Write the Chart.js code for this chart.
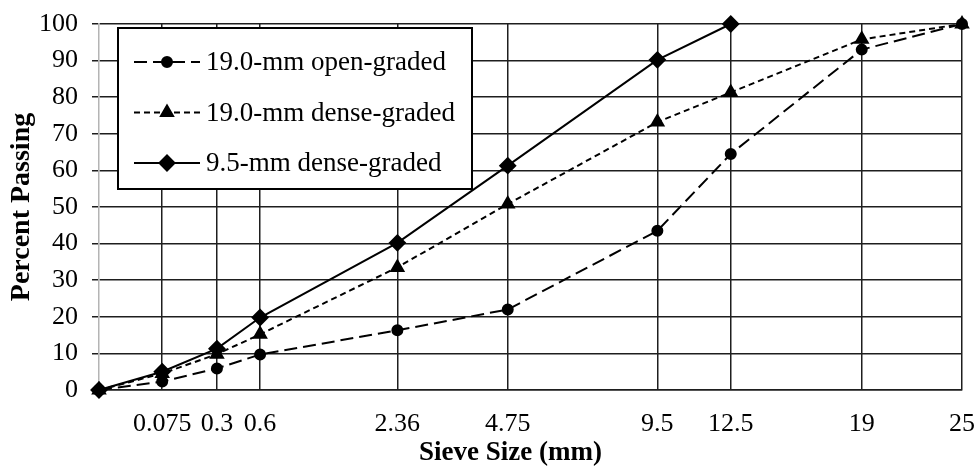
<!DOCTYPE html>
<html>
<head>
<meta charset="utf-8">
<script src="https://cdn.jsdelivr.net/npm/chart.js@4.4.1/dist/chart.umd.min.js"></script>
<style>
  html, body { margin: 0; padding: 0; background: #fff; }
  #wrap { width: 979px; height: 466px; }
</style>
</head>
<body>
<div id="wrap"><canvas id="gradation" width="979" height="466"></canvas></div>
<script>
const sieveSizes = [0, 0.075, 0.3, 0.6, 2.36, 4.75, 9.5, 12.5, 19, 25];
const tickLabels = ["0.075", "0.3", "0.6", "2.36", "4.75", "9.5", "12.5", "19", "25"];
const tickSizes = [0.075, 0.3, 0.6, 2.36, 4.75, 9.5, 12.5, 19, 25];

const openGraded19 = [0, 2.3, 5.9, 9.7, 16.3, 22, 43.5, 64.5, 93, 100];
const denseGraded19 = [0, 4.5, 9.8, 15.2, 33.5, 50.8, 73.2, 81.3, 95.8, 100];
const denseGraded95 = [0, 5, 11.3, 19.8, 40.2, 61.3, 90.2, 100, null, null];

const xTitle = "Sieve Size (mm)";
const yTitle = "Percent Passing";

const FONT = '"Liberation Serif", "Times New Roman", serif';
const GRID = "#1e1e1e";

// 0.45 power chart: x position is size^0.45
const pw = (s) => Math.pow(s, 0.45);
const toPoints = (vals) => sieveSizes.map((s, i) => ({ x: pw(s), y: vals[i] }));

// legend drawn inside the plot, upper left, on a white box
const innerLegend = {
  id: "innerLegend",
  afterDatasetsDraw(chart) {
    const ctx = chart.ctx;
    const { left, top } = chart.chartArea;
    const bx = left + 19, by = top + 4, bw = 354, bh = 161;
    ctx.save();
    ctx.fillStyle = "#fff";
    ctx.fillRect(bx, by, bw, bh);
    ctx.lineWidth = 2;
    ctx.strokeStyle = "#000";
    ctx.strokeRect(bx, by, bw, bh);
    chart.data.datasets.forEach((ds, i) => {
      const y = by + 34 + i * 50.5;
      ctx.beginPath();
      ctx.setLineDash(ds.borderDash || []);
      ctx.lineWidth = 2;
      ctx.moveTo(bx + 16, y);
      ctx.lineTo(bx + 82, y);
      ctx.stroke();
      ctx.setLineDash([]);
      ctx.fillStyle = "#000";
      Chart.helpers.drawPoint(ctx, {
        pointStyle: ds.pointStyle,
        radius: ds.pointRadius,
        rotation: 0,
        borderWidth: 1,
      }, bx + 49, y);
      ctx.font = "27px " + FONT;
      ctx.textBaseline = "middle";
      ctx.fillText(ds.label, bx + 88, y + 1);
    });
    ctx.restore();
  },
};

// x title sits a little left of the plot centre in the original
const xAxisTitle = {
  id: "xAxisTitle",
  afterDraw(chart) {
    const ctx = chart.ctx;
    const { left, right } = chart.chartArea;
    ctx.save();
    ctx.font = "bold 27px " + FONT;
    ctx.fillStyle = "#000";
    ctx.textAlign = "center";
    ctx.textBaseline = "middle";
    ctx.fillText(xTitle, (left + right) / 2 - 20, 453);
    ctx.restore();
  },
};

const common = {
  borderColor: "#000",
  backgroundColor: "#000",
  pointBackgroundColor: "#000",
  pointBorderColor: "#000",
  borderWidth: 2,
  fill: false,
  tension: 0,
  clip: false,
};

new Chart(document.getElementById("gradation"), {
  type: "line",
  data: {
    datasets: [
      { ...common, label: "19.0-mm open-graded", data: toPoints(openGraded19),
        borderDash: [13, 6], pointStyle: "circle", pointRadius: 5 },
      { ...common, label: "19.0-mm dense-graded", data: toPoints(denseGraded19),
        borderDash: [6, 4], pointStyle: "triangle", pointRadius: 7 },
      { ...common, label: "9.5-mm dense-graded", data: toPoints(denseGraded95),
        borderDash: [], pointStyle: "rectRot", pointRadius: 7.5 },
    ],
  },
  options: {
    responsive: false,
    animation: false,
    layout: { padding: { top: 24, right: 17, left: 0, bottom: 0 } },
    plugins: { legend: { display: false }, tooltip: { enabled: false } },
    scales: {
      x: {
        type: "linear",
        min: 0,
        max: pw(25),
        afterBuildTicks: (scale) => {
          scale.ticks = tickSizes.map((s) => ({ value: pw(s) }));
        },
        afterFit: (scale) => {
          scale.height = 76;
          scale.paddingLeft = 0;
          scale.paddingRight = 0;
        },
        ticks: {
          autoSkip: false,
          maxRotation: 0,
          padding: 19,
          color: "#000",
          font: { family: FONT, size: 26 },
          callback: (v, i) => tickLabels[i],
        },
        grid: { color: GRID, lineWidth: 1.5, drawTicks: false },
        border: { color: GRID, width: 1.5 },
        title: { display: false },
      },
      y: {
        min: 0,
        max: 100,
        afterFit: (scale) => {
          scale.width = 99;
          scale.paddingTop = 0;
          scale.paddingBottom = 0;
        },
        ticks: {
          stepSize: 10,
          padding: 14,
          color: "#000",
          font: { family: FONT, size: 26 },
        },
        grid: { color: GRID, lineWidth: 1.5, tickLength: 7 },
        border: { color: "#b4b4b4", width: 1.5 },
        title: {
          display: true,
          text: yTitle,
          color: "#000",
          font: { family: FONT, size: 28, weight: "bold", lineHeight: 1 },
          padding: { top: 8, bottom: 0 },
        },
      },
    },
  },
  plugins: [innerLegend, xAxisTitle],
});
</script>
</body>
</html>
